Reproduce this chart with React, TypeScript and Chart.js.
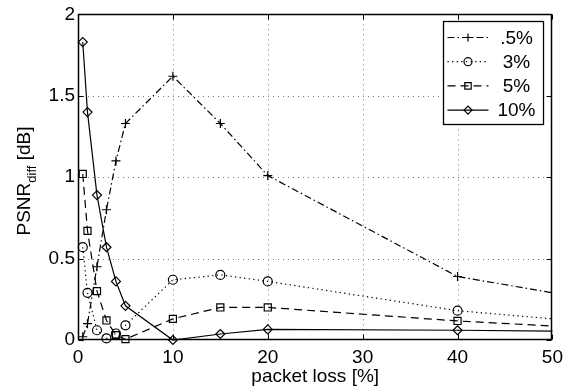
import React, { useEffect, useRef } from 'react';
import { Chart, registerables } from 'chart.js';

Chart.register(...registerables);

// ---- data ----
const packetLoss = [0.5, 1, 2, 3, 4, 5, 10, 15, 20, 40, 50];
const seriesHalf = [0.02, 0.10, 0.45, 0.80, 1.10, 1.33, 1.62, 1.33, 1.01, 0.39, 0.29];
const series3 = [0.57, 0.29, 0.06, 0.01, 0.04, 0.09, 0.37, 0.40, 0.36, 0.18, 0.13];
const series5 = [1.02, 0.67, 0.30, 0.12, 0.03, 0.005, 0.13, 0.20, 0.20, 0.117, 0.086];
const series10 = [1.83, 1.40, 0.89, 0.57, 0.36, 0.21, 0.0, 0.037, 0.065, 0.06, 0.055];
const seriesNames = ['.5%', '3%', '5%', '10%'];
const xTicks = [0, 10, 20, 30, 40, 50];
const yTicks = [0, 0.5, 1, 1.5, 2];
const xTitle = 'packet loss [%]';
const yTitleMain = 'PSNR';
const yTitleSub = 'diff';
const yTitleUnit = ' [dB]';

const FONT = "'Liberation Sans', Arial, Helvetica, sans-serif";

const styles = [
  { dash: [7, 3, 1.5, 3], marker: 'cross', r: 4.5 },
  { dash: [1.3, 3.3], marker: 'circle', r: 4.5 },
  { dash: [8, 5], marker: 'rect', r: 5 },
  { dash: [], marker: 'rectRot', r: 4.5 },
];
const seriesValues = [seriesHalf, series3, series5, series10];

function drawMarker(ctx: CanvasRenderingContext2D, kind: string, cx: number, cy: number, r: number) {
  ctx.beginPath();
  if (kind === 'cross') {
    ctx.moveTo(cx - r, cy); ctx.lineTo(cx + r, cy);
    ctx.moveTo(cx, cy - r); ctx.lineTo(cx, cy + r);
  } else if (kind === 'circle') {
    ctx.arc(cx, cy, r, 0, Math.PI * 2);
  } else if (kind === 'rect') {
    const h = r * Math.SQRT1_2;
    ctx.rect(cx - h, cy - h, 2 * h, 2 * h);
  } else {
    ctx.moveTo(cx - r, cy); ctx.lineTo(cx, cy - r); ctx.lineTo(cx + r, cy); ctx.lineTo(cx, cy + r); ctx.closePath();
  }
  ctx.stroke();
}

const matlabPlugin = {
  id: 'matlabLook',
  beforeDatasetsDraw(chart: any) {
    const { ctx, chartArea: a, scales } = chart;
    const x = scales.x, y = scales.y;
    ctx.save();
    ctx.strokeStyle = '#7a7a7a';
    ctx.lineWidth = 1;
    ctx.setLineDash([1, 4]);
    xTicks.forEach((v) => {
      if (v <= x.min || v >= x.max) return;
      const px = Math.round(x.getPixelForValue(v)) + 0.5;
      ctx.beginPath(); ctx.moveTo(px, a.top); ctx.lineTo(px, a.bottom); ctx.stroke();
    });
    yTicks.forEach((v) => {
      if (v <= y.min || v >= y.max) return;
      const py = Math.round(y.getPixelForValue(v)) + 0.5;
      ctx.beginPath(); ctx.moveTo(a.left, py); ctx.lineTo(a.right, py); ctx.stroke();
    });
    ctx.restore();
  },
  afterDatasetsDraw(chart: any) {
    const { ctx, chartArea: a, scales } = chart;
    const x = scales.x, y = scales.y;
    ctx.save();
    ctx.strokeStyle = '#000';
    ctx.lineWidth = 1.5;
    ctx.setLineDash([]);
    const L = Math.round(a.left) + 0.5, R = Math.round(a.right) - 0.5;
    const T = Math.round(a.top) + 0.5, B = Math.round(a.bottom) - 0.5;
    ctx.strokeRect(L, T, R - L, B - T);
    const tl = 5;
    ctx.lineWidth = 1;
    xTicks.forEach((v) => {
      const px = Math.round(x.getPixelForValue(v)) + 0.5;
      ctx.beginPath();
      ctx.moveTo(px, B); ctx.lineTo(px, B - tl);
      ctx.moveTo(px, T); ctx.lineTo(px, T + tl);
      ctx.stroke();
    });
    yTicks.forEach((v) => {
      const py = Math.round(y.getPixelForValue(v)) + 0.5;
      ctx.beginPath();
      ctx.moveTo(L, py); ctx.lineTo(L + tl, py);
      ctx.moveTo(R, py); ctx.lineTo(R - tl, py);
      ctx.stroke();
    });
    ctx.restore();
  },
  afterDraw(chart: any) {
    const { ctx, chartArea: a } = chart;
    ctx.save();
    // legend
    const bx = Math.round(a.right) - 8.5, by = Math.round(a.top) + 7.5;
    const bw = 100, bh = 103;
    const left = bx - bw;
    ctx.fillStyle = '#fff';
    ctx.fillRect(left, by, bw, bh);
    ctx.strokeStyle = '#000';
    ctx.lineWidth = 1.3;
    ctx.strokeRect(left, by, bw, bh);
    ctx.font = `19px ${FONT}`;
    ctx.textAlign = 'center';
    ctx.textBaseline = 'middle';
    seriesNames.forEach((name, i) => {
      const cy = by + 16 + i * 24.2;
      const s = styles[i];
      ctx.lineWidth = 1.2;
      ctx.setLineDash(s.dash);
      ctx.beginPath();
      ctx.moveTo(left + 4, cy); ctx.lineTo(left + 45, cy);
      ctx.stroke();
      ctx.setLineDash([]);
      drawMarker(ctx, s.marker, left + 24.5, cy, s.r - 0.5);
      ctx.fillStyle = '#000';
      ctx.fillText(name, left + 73, cy + 1);
    });
    // x title
    ctx.font = `19px ${FONT}`;
    ctx.textAlign = 'center';
    ctx.textBaseline = 'alphabetic';
    ctx.fillText(xTitle, (a.left + a.right) / 2, 382);
    // y title with subscript
    ctx.translate(30, 181);
    ctx.rotate(-Math.PI / 2);
    const mainFont = `19px ${FONT}`;
    const subFont = `13px ${FONT}`;
    ctx.font = mainFont;
    const w1 = ctx.measureText(yTitleMain).width;
    const w3 = ctx.measureText(yTitleUnit).width;
    ctx.font = subFont;
    const w2 = ctx.measureText(yTitleSub).width;
    let sx = -(w1 + w2 + w3) / 2;
    ctx.textAlign = 'left';
    ctx.font = mainFont;
    ctx.fillText(yTitleMain, sx, 0);
    sx += w1;
    ctx.font = subFont;
    ctx.fillText(yTitleSub, sx, 6);
    sx += w2;
    ctx.font = mainFont;
    ctx.fillText(yTitleUnit, sx, 0);
    ctx.restore();
  },
};

export default function App() {
  const ref = useRef<HTMLCanvasElement | null>(null);
  useEffect(() => {
    if (!ref.current) return;
    const datasets = seriesNames.map((name, i) => ({
      label: name,
      data: packetLoss.map((xv, j) => ({ x: xv, y: seriesValues[i][j] })),
      borderColor: '#000',
      borderWidth: 1.2,
      borderDash: styles[i].dash,
      pointStyle: styles[i].marker,
      pointRadius: (c: any) => (packetLoss[c.dataIndex] >= 50 ? 0 : styles[i].r),
      pointBorderColor: '#000',
      pointBackgroundColor: 'rgba(0,0,0,0)',
      pointBorderWidth: 1.2,
      tension: 0,
      fill: false,
      clip: false as any,
    }));
    const chart = new Chart(ref.current, {
      type: 'line',
      data: { datasets },
      options: {
        animation: false,
        responsive: false,
        devicePixelRatio: 1,
        layout: { padding: { left: 0, right: 13, top: 14, bottom: 0 } },
        plugins: { legend: { display: false }, tooltip: { enabled: false } },
        scales: {
          x: {
            type: 'linear',
            min: 0,
            max: 50,
            afterBuildTicks: (s: any) => { s.ticks = xTicks.map((v) => ({ value: v })); },
            afterFit: (s: any) => { s.height = 47; },
            ticks: { color: '#000', font: { family: FONT, size: 19 }, padding: 6, maxRotation: 0 },
            grid: { display: false, drawTicks: false },
            border: { display: false },
          },
          y: {
            type: 'linear',
            min: 0,
            max: 2,
            afterBuildTicks: (s: any) => { s.ticks = yTicks.map((v) => ({ value: v })); },
            afterFit: (s: any) => { s.width = 78; },
            ticks: { color: '#000', font: { family: FONT, size: 19 }, padding: 3, callback: (v: any) => String(v) },
            grid: { display: false, drawTicks: false },
            border: { display: false },
          },
        },
      },
      plugins: [matlabPlugin],
    } as any);
    return () => chart.destroy();
  }, []);
  return (
    <div style={{ position: 'fixed', left: 0, top: 0, width: 569, height: 387, background: '#fff' }}>
      <canvas ref={ref} width={569} height={387} style={{ display: 'block', width: 569, height: 387 }} />
    </div>
  );
}
